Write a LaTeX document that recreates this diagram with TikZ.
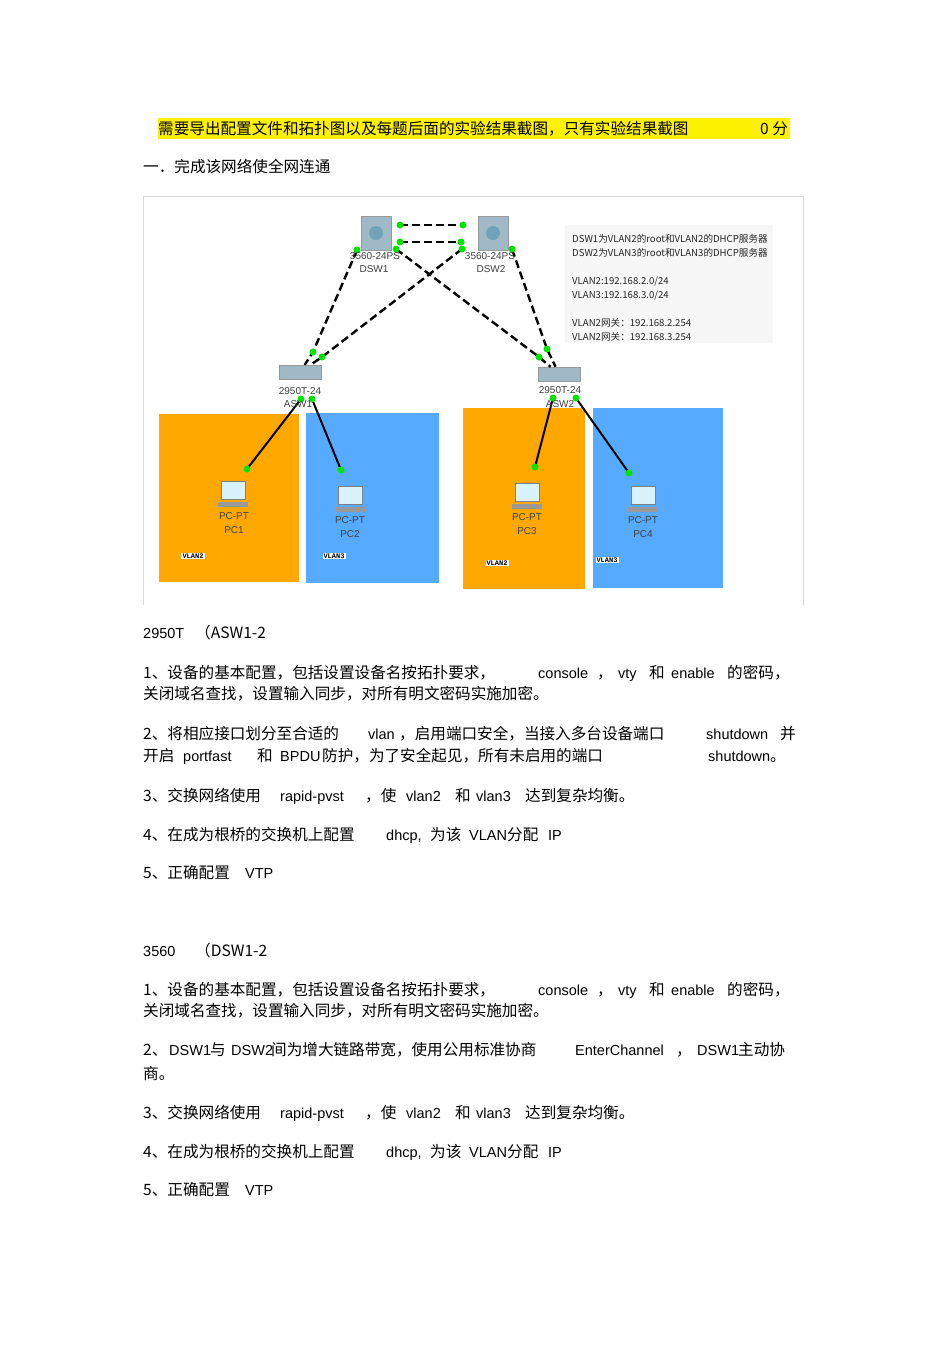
\documentclass[tikz,border=0pt]{standalone}
\usepackage{fontspec}
\setmainfont{Liberation Sans}
\newfontfamily\cjk{Noto Sans CJK SC}
\newfontfamily\mono{Liberation Mono}
\begin{document}
\begin{tikzpicture}[x=1pt,y=-1pt,
  body/.style={anchor=base west,inner sep=0pt,font=\fontsize{15.6}{17}\selectfont\cjk},
  lat/.style={anchor=base west,inner sep=0pt,font=\fontsize{14.5}{16}\selectfont},
  dev/.style={font=\fontsize{10}{11}\selectfont,text=black!75,inner sep=0pt},
  vl/.style={font=\fontsize{7}{8}\selectfont\mono\bfseries,fill=white,inner sep=1pt},
  note/.style={anchor=base west,inner sep=0pt,font=\fontsize{9.6}{10}\selectfont\cjk,text=black!85},
  dlink/.style={line width=2.4pt,dash pattern=on 8pt off 4pt},
  slink/.style={line width=2pt},
  gdot/.style={circle,fill=green!90!black,inner sep=0pt,minimum size=7pt}]
\useasboundingbox (0,0) rectangle (950,1345);
\fill[white] (0,0) rectangle (950,1345);
\definecolor{vor}{RGB}{255,168,0}
\definecolor{vbl}{RGB}{86,170,255}
% header
\fill[yellow] (158,118) rectangle (790,139);
\node[body] (h1) at (158,134) {需要导出配置文件和拓扑图以及每题后面的实验结果截图，只有实验结果截图};
\node[body] (h2) at (760,134) {0 分};
\node[body] (t1) at (143,172) {一．完成该网络使全网连通};
% frame
\draw[black!15] (143,605) -- (143,196) -- (803,196) -- (803,605);
% vlan areas
\fill[vor] (159,414) rectangle (299,582);
\fill[vbl] (306,413) rectangle (439,583);
\fill[vor] (463,408) rectangle (585,589);
\fill[vbl] (593,408) rectangle (723,588);
% note
\fill[black!3] (565,225) rectangle (773,343);
\node[note] (n1) at (572,242) {DSW1为VLAN2的root和VLAN2的DHCP服务器};
\node[note] (n2) at (572,256) {DSW2为VLAN3的root和VLAN3的DHCP服务器};
\node[note] (n3) at (572,284) {VLAN2:192.168.2.0/24};
\node[note] (n4) at (572,298) {VLAN3:192.168.3.0/24};
\node[note] (n5) at (572,326) {VLAN2网关：192.168.2.254};
\node[note] (n6) at (572,340) {VLAN2网关：192.168.3.254};
% devices
\foreach \n/\x in {dsw1/376,dsw2/493}{
  \node[draw=black!40,fill=cyan!30!gray!70,minimum width=30pt,minimum height=34pt,inner sep=0pt] (\n) at (\x,233) {};
  \fill[cyan!40!gray] (\x,233) circle (7pt);
}
\foreach \n/\x/\y in {asw1/300/372,asw2/559/374}{
  \node[draw=black!40,fill=cyan!30!gray!70,minimum width=42pt,minimum height=14pt,inner sep=0pt] (\n) at (\x,\y) {};
}
\foreach \n/\x/\y in {pc1/233/490,pc2/350/495,pc3/527/492,pc4/643/495}{
  \node[draw=black!50,fill=cyan!15,minimum width=24pt,minimum height=18pt,inner sep=0pt] (\n) at (\x,\y) {};
  \fill[black!40] (\x-15,\y+12) rectangle (\x+15,\y+17);
}
% coordinates
\coordinate (d1l) at (357,250); \coordinate (d1r) at (396,249);
\coordinate (d2l) at (462,249); \coordinate (d2r) at (512,249);
\coordinate (a1l) at (313,352); \coordinate (a1r) at (322,357);
\coordinate (a2l) at (539,357); \coordinate (a2r) at (547,349);
\coordinate (a1b) at (301,399); \coordinate (a1c) at (312,399);
\coordinate (a2b) at (553,398); \coordinate (a2c) at (576,398);
\coordinate (p1) at (247,469); \coordinate (p2) at (341,470);
\coordinate (p3) at (535,467); \coordinate (p4) at (629,473);
\coordinate (t1a) at (400,225); \coordinate (t1b) at (463,225);
\coordinate (t2a) at (400,242); \coordinate (t2b) at (461,242);
% links
\draw[dlink] (t1a) -- (t1b);
\draw[dlink] (t2a) -- (t2b);
\draw[dlink] (d1l) -- (a1l) -- (asw1);
\draw[dlink] (d2l) -- (a1r) -- (asw1);
\draw[dlink] (d1r) -- (a2l) -- (asw2);
\draw[dlink] (d2r) -- (a2r) -- (asw2);
\draw[slink] (a1b) -- (p1); \draw[slink] (a1c) -- (p2);
\draw[slink] (a2b) -- (p3); \draw[slink] (a2c) -- (p4);
\foreach \c in {t1a,t1b,t2a,t2b,d1l,d1r,d2l,d2r,a1l,a1r,a2l,a2r,a1b,a1c,a2b,a2c,p1,p2,p3,p4}
  \node[gdot] at (\c) {};
% device labels
\node[dev] (l1) at (375,256) {3560-24PS}; \node[dev] (l2) at (374,269) {DSW1};
\node[dev] (l3) at (490,256) {3560-24PS}; \node[dev] (l4) at (491,269) {DSW2};
\node[dev] (l5) at (300,391) {2950T-24}; \node[dev] (l6) at (298,404) {ASW1};
\node[dev] (l7) at (560,390) {2950T-24}; \node[dev] (l8) at (560,404) {ASW2};
\foreach \x/\y/\t in {234/516/1,350/520/2,527/517/3,643/520/4}{
  \node[dev] at (\x,\y) {PC-PT}; \node[dev] at (\x,\y+14) {PC\t};
}
\node[vl] (v1) at (193,556) {VLAN2};
\node[vl] (v2) at (334,556) {VLAN3};
\node[vl] (v3) at (497,563) {VLAN2};
\node[vl] (v4) at (607,560) {VLAN3};
% body text
\foreach \y/\h/\p in {638/2950T/（ASW1-2,956/3560/（DSW1-2}{
  \node[lat] at (143,\y) {\h}; \node[body] at (195,\y) {\p};
}
\foreach \y in {678,995}{
  \node[body] at (143,\y) {1、设备的基本配置，包括设置设备名按拓扑要求，};
  \node[lat] at (538,\y) {console}; \node[body] at (597,\y) {，};
  \node[lat] at (618,\y) {vty}; \node[body] at (649,\y) {和};
  \node[lat] at (671,\y) {enable}; \node[body] at (727,\y) {的密码，};
  \node[body] at (143,\y+21) {关闭域名查找，设置输入同步，对所有明文密码实施加密。};
}
\node[body] at (143,739) {2、将相应接口划分至合适的};
\node[lat] at (368,739) {vlan}; \node[body] at (399,739) {，启用端口安全，当接入多台设备端口};
\node[lat] at (706,739) {shutdown}; \node[body] at (780,739) {并};
\node[body] at (143,761) {开启}; \node[lat] at (183,761) {portfast};
\node[body] at (257,761) {和}; \node[lat] at (280,761) {BPDU};
\node[body] at (322,761) {防护，为了安全起见，所有未启用的端口};
\node[lat] at (708,761) {shutdown}; \node[body] at (706+64,761) {。};
\foreach \y in {801,1118}{
  \node[body] at (143,\y) {3、交换网络使用};
  \node[lat] at (280,\y) {rapid-pvst}; \node[body] at (365,\y) {，使};
  \node[lat] at (406,\y) {vlan2}; \node[body] at (455,\y) {和};
  \node[lat] at (476,\y) {vlan3}; \node[body] at (525,\y) {达到复杂均衡。};
}
\foreach \y in {840,1157}{
  \node[body] at (143,\y) {4、在成为根桥的交换机上配置};
  \node[lat] at (386,\y) {dhcp,}; \node[body] at (430,\y) {为该};
  \node[lat] at (469,\y) {VLAN}; \node[body] at (507,\y) {分配};
  \node[lat] at (548,\y) {IP};
}
\foreach \y in {878,1195}{
  \node[body] at (143,\y) {5、正确配置}; \node[lat] at (245,\y) {VTP};
}
\node[body] at (143,1055) {2、}; \node[lat] at (169,1055) {DSW1};
\node[body] at (210,1055) {与}; \node[lat] at (231,1055) {DSW2};
\node[body] at (271,1055) {间为增大链路带宽，使用公用标准协商};
\node[lat] at (575,1055) {EnterChannel}; \node[body] at (676,1055) {，};
\node[lat] at (697,1055) {DSW1}; \node[body] at (738,1055) {主动协};
\node[body] at (143,1079) {商。};
\end{tikzpicture}
\end{document}
